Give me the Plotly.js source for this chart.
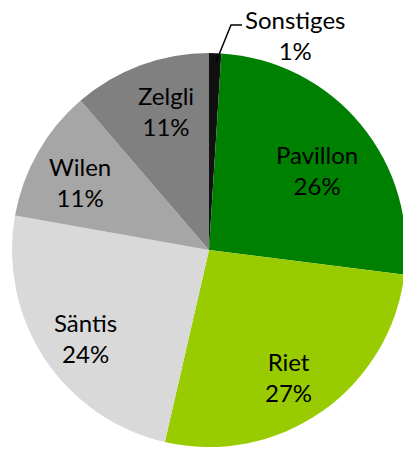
<!DOCTYPE html>
<html>
<head>
<meta charset="utf-8">
<script src="https://cdn.plot.ly/plotly-3.0.1.min.js"></script>
<style>
html, body { margin: 0; padding: 0; overflow: hidden; background: #fff; }
#chart { width: 420px; height: 449px; }
</style>
</head>
<body>
<div id="chart"></div>
<script>
const labels = ['Sonstiges', 'Pavillon', 'Riet', 'Säntis', 'Wilen', 'Zelgli'];
const values = [1.0, 26.0, 26.6, 24.2, 10.9, 11.3];
const colors = ['#111111', '#008000', '#99cc00', '#d9d9d9', '#a6a6a6', '#808080'];

// label placement style: fraction of radius along each slice bisector (Sonstiges uses a leader)
const labelRadius = [null, 0.68, 0.76, 0.77, 0.74, 0.74];
const labelAngleShift = [0, 3, 3, -2, -2, 3];

const W = 420, H = 449;
const CX = 209, CY = 250, R = 197;
const px = x => x / W;
const py = y => 1 - y / H;
const FONT = { family: 'Lato, sans-serif', size: 24, color: '#000' };

const total = values.reduce((a, b) => a + b, 0);
const pctText = v => Math.round(v / total * 100) + '%';

const trace = {
  type: 'pie',
  labels: labels,
  values: values,
  sort: false,
  direction: 'clockwise',
  rotation: 0,
  marker: { colors: colors, line: { width: 0 } },
  textinfo: 'none',
  hoverinfo: 'none',
  domain: { x: [px(CX - R), px(CX + R)], y: [py(CY + R), py(CY - R)] }
};

const annotations = [];
let cum = 0;
values.forEach((v, i) => {
  const start = cum;
  cum += v;
  if (labelRadius[i] === null) return;
  const mid = ((start + cum) / 2 / total) * 2 * Math.PI + labelAngleShift[i] * Math.PI / 180;
  const r = labelRadius[i] * R;
  annotations.push({
    xref: 'paper', yref: 'paper',
    x: px(CX + r * Math.sin(mid)),
    y: py(CY - r * Math.cos(mid)),
    xanchor: 'center', yanchor: 'middle',
    text: labels[i] + '<br>' + pctText(v),
    showarrow: false, font: FONT, align: 'center'
  });
});
annotations.push({
  xref: 'paper', yref: 'paper',
  x: px(295), y: py(35),
  xanchor: 'center', yanchor: 'middle',
  text: labels[0] + '<br>' + pctText(values[0]),
  showarrow: false, font: FONT, align: 'center'
});

const layout = {
  width: W, height: H,
  margin: { l: 0, r: 0, t: 0, b: 0 },
  paper_bgcolor: '#fff',
  showlegend: false,
  shapes: [{
    type: 'path', xref: 'paper', yref: 'paper',
    path: `M ${px(216)},${py(62)} L ${px(231)},${py(25)} L ${px(242)},${py(25)}`,
    line: { color: '#000', width: 1.5 }
  }],
  annotations: annotations
};

Plotly.newPlot('chart', [trace], layout, { staticPlot: true, displayModeBar: false });
</script>
</body>
</html>
